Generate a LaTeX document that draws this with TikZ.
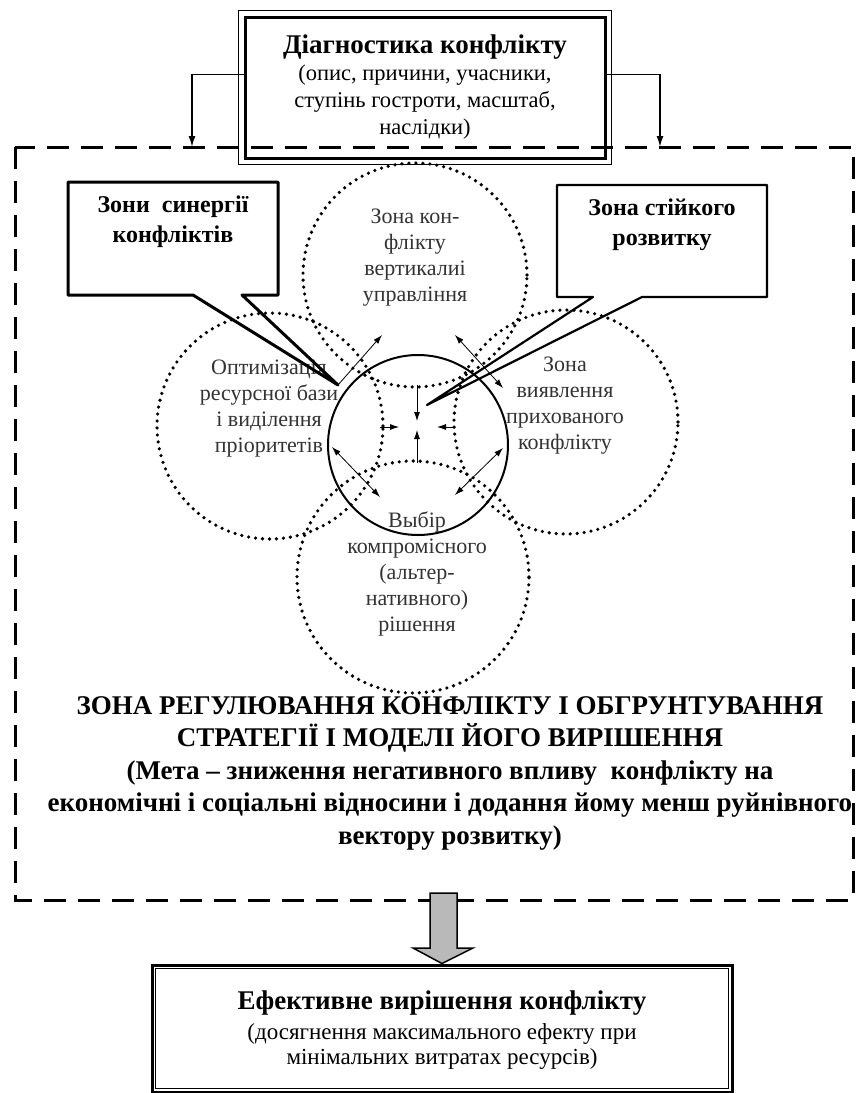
\documentclass[tikz,border=0pt]{standalone}
\usepackage{fontspec}
\setmainfont{Liberation Serif}
\usetikzlibrary{arrows.meta}

\tikzset{
	zone/.style={line width=3.6pt,line cap=round,dash pattern=on 0pt off 7pt},
	ztext/.style={align=center,text=black!80,font=\fontsize{22}{26}\selectfont},
	ctext/.style={align=center,font=\fontsize{24}{30}\selectfont\bfseries},
	tip/.style={-{Latex[length=9pt,width=6pt]},line width=0.8pt},
	twotip/.style={{Latex[length=9pt,width=6pt]}-{Latex[length=9pt,width=6pt]},line width=0.8pt},
	feed/.style={-{Latex[length=11pt,width=7pt]},line width=1.6pt}
}

\begin{document}
\begin{tikzpicture}[x=1pt,y=-1pt]
	\useasboundingbox (0,0) rectangle (860,1093);
	\fill[white] (0,0) rectangle (860,1093);

	\coordinate (FNW) at (15,147);
	\coordinate (FSE) at (853,900);

	\coordinate (T) at (415,275);
	\coordinate (L) at (270,426);
	\coordinate (R) at (566,422);
	\coordinate (D) at (413,577);
	\coordinate (C) at (418,445);

	\coordinate (LIN) at (192,147);
	\coordinate (RIN) at (660,147);

	\coordinate (SYNA) at (193,295);
	\coordinate (SYNB) at (242,295);
	\coordinate (SYNT) at (338,385);
	\coordinate (STKA) at (593,297);
	\coordinate (STKB) at (642,297);
	\coordinate (STKT) at (427,405);




	\draw[line width=3pt,dash pattern=on 22pt off 12pt](FNW) rectangle (FSE);

	\draw[zone](T) circle[radius=112pt];
	\draw[zone](L) circle[radius=113pt];
	\draw[zone](R) circle[radius=112pt];
	\draw[zone](D) circle[radius=116pt];

	\node[ztext] (TTX) at (415,258) {Зона кон-\\флікту\\вертикалиі\\управління};
	\node[ztext] (LTX) at (269,409) {Оптимізація\\ресурсної бази\\і виділення\\пріоритетів};
	\node[ztext] (RTX) at (565,406) {Зона\\виявлення\\прихованого\\конфлікту};
	\node[ztext] (DTX) at (417,574) {Выбір\\компромісного\\(альтер-\\нативного)\\рішення};

	\draw[line width=2pt](C) circle[radius=90pt];

	\coordinate (CT) at (417,385);
	\coordinate (CB) at (417,463);
	\coordinate (CTE) at (417,421);
	\coordinate (CBE) at (417,430);
	\coordinate (CL) at (380,427);
	\coordinate (CLE) at (399,427);
	\coordinate (CR) at (455,427);
	\coordinate (CRE) at (437,427);

	\draw[tip](CT)--(CTE);
	\draw[tip](CB)--(CBE);
	\draw[tip](CL)--(CLE);
	\draw[tip](CR)--(CRE);

	\coordinate (UL) at (382,335);
	\coordinate (UR1) at (455,335);
	\coordinate (UR2) at (503,388);
	\coordinate (DL1) at (332,447);
	\coordinate (DL2) at (380,497);
	\coordinate (DR1) at (503,448);
	\coordinate (DR2) at (455,495);

	\draw[tip](SYNT)--(UL);
	\draw[twotip](UR1)--(UR2);
	\draw[twotip](DL1)--(DL2);
	\draw[twotip](DR1)--(DR2);

	\draw[line width=3pt,line join=round](SYNA)--(68,295)--(68,182)--(278,182)--(278,295)--(SYNB)--(SYNT)--cycle;
	\node[ctext] (SYN) at (173,222) {Зони\ \ синергії\\конфліктів};

	\draw[line width=2.2pt,line join=round](STKA)--(557,297)--(557,185)--(767,185)--(767,297)--(STKB)--(STKT)--cycle;
	\node[ctext] (STK) at (662,225) {Зона стійкого\\розвитку};

	\node[draw,line width=3pt,minimum width=360pt,minimum height=141pt] (DIAG) at (425,87.5) {};
	\draw[line width=1pt]([shift={(-5pt,5pt)}]DIAG.north west) rectangle ([shift={(5pt,-5pt)}]DIAG.south east);
	\node[align=center,font=\fontsize{22.5}{27}\selectfont] (DIAGT) at (DIAG) {{\fontsize{27}{27}\selectfont\bfseries Діагностика конфлікту}\\(опис, причини, учасники,\\ступінь гостроти, масштаб,\\наслідки)};

	\draw[feed]([yshift=13pt]DIAG.west)-|(LIN);
	\draw[feed]([yshift=13pt]DIAG.east)-|(RIN);

	\node[align=center,font=\fontsize{27}{32.5}\selectfont\bfseries] (REG) at (450,773) {ЗОНА РЕГУЛЮВАННЯ КОНФЛІКТУ І ОБГРУНТУВАННЯ\\СТРАТЕГІЇ І МОДЕЛІ ЙОГО ВИРІШЕННЯ\\(Мета – зниження негативного впливу\ \ конфлікту на\\економічні і соціальні відносини і додання йому менш руйнівного\\вектору розвитку)};

	\node[draw,line width=3pt,minimum width=580pt,minimum height=127pt] (EFF) at (442,1028.5) {};
	\draw[line width=1pt]([shift={(5pt,-5pt)}]EFF.north west) rectangle ([shift={(-5pt,5pt)}]EFF.south east);
	\node[align=center,font=\fontsize{23}{25}\selectfont] (EFFT) at (442,1030) {{\fontsize{27}{31}\selectfont\bfseries Ефективне вирішення конфлікту}\\[5pt](досягнення максимального ефекту при\\мінімальних витратах ресурсів)};

	\coordinate (GA) at (443,893);
	\draw[line width=1.5pt,fill=gray!55,line join=miter]([xshift=-13pt]GA)--([xshift=14pt]GA)--([xshift=14pt]GA|-0,948)--([xshift=30pt]GA|-0,948)--(EFF.north)--([xshift=-30pt]GA|-0,948)--([xshift=-13pt]GA|-0,948)--cycle;

\end{tikzpicture}
\end{document}
